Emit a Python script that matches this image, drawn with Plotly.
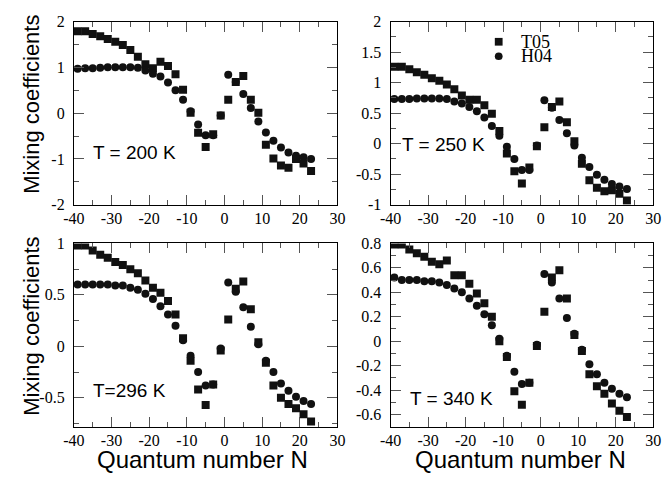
import plotly.graph_objects as go

# Quantum number N (x positions)
N = [-39, -37, -35, -33, -31, -29, -27, -25, -23, -21, -19, -17, -15, -13, -11, -9,
     -7, -5, -3, -1, 1, 3, 5, 7, 9, 11, 13, 15, 17, 19, 21, 23]

# T = 200 K
T05_200 = [1.79, 1.79, 1.73, 1.68, 1.62, 1.56, 1.49, 1.38, 1.23, 1.07, 0.98, 1.12, 1.03, 0.85, 0.51, 0.01,
           -0.43, -0.74, -0.46, -0.05, 0.29, 0.68, 0.81, 0.29, 0.01, -0.69, -0.99, -1.14, -1.19, -1.00, -1.10, -1.26]
H04_200 = [0.97, 0.98, 0.98, 0.99, 1.00, 1.00, 1.00, 1.00, 0.99, 0.93, 0.86, 0.80, 0.67, 0.50, 0.29, 0.04,
           -0.25, -0.48, -0.48, -0.05, 0.84, 0.68, 0.42, 0.11, -0.18, -0.42, -0.60, -0.75, -0.86, -0.93, -0.96, -1.00]
# T = 250 K
T05_250 = [1.26, 1.26, 1.22, 1.17, 1.13, 1.07, 1.03, 0.97, 0.89, 0.79, 0.72, 0.72, 0.63, 0.49, 0.21, -0.16,
           -0.45, -0.65, -0.39, -0.04, 0.27, 0.60, 0.69, 0.35, 0.04, -0.33, -0.60, -0.72, -0.78, -0.76, -0.82, -0.93]
H04_250 = [0.73, 0.73, 0.73, 0.74, 0.74, 0.74, 0.74, 0.73, 0.69, 0.66, 0.60, 0.53, 0.43, 0.29, 0.13, -0.05,
           -0.25, -0.43, -0.43, -0.03, 0.71, 0.59, 0.39, 0.17, -0.03, -0.23, -0.38, -0.51, -0.59, -0.66, -0.70, -0.74]
# T = 296 K
T05_296 = [0.98, 0.98, 0.93, 0.89, 0.86, 0.82, 0.79, 0.75, 0.71, 0.64, 0.57, 0.52, 0.44, 0.31, 0.08, -0.14,
           -0.42, -0.57, -0.37, -0.04, 0.26, 0.56, 0.63, 0.36, 0.04, -0.16, -0.38, -0.50, -0.56, -0.60, -0.66, -0.73]
H04_296 = [0.60, 0.60, 0.60, 0.60, 0.60, 0.59, 0.59, 0.57, 0.55, 0.51, 0.46, 0.39, 0.31, 0.20, 0.06, -0.09,
           -0.25, -0.38, -0.37, -0.02, 0.62, 0.53, 0.38, 0.19, 0.02, -0.14, -0.25, -0.36, -0.43, -0.49, -0.53, -0.56]
# T = 340 K
T05_340 = [0.79, 0.79, 0.75, 0.72, 0.69, 0.65, 0.63, 0.66, 0.54, 0.54, 0.47, 0.39, 0.31, 0.20, 0.00, -0.13,
           -0.41, -0.52, -0.34, -0.04, 0.24, 0.52, 0.58, 0.35, 0.05, -0.08, -0.27, -0.37, -0.43, -0.51, -0.57, -0.62]
H04_340 = [0.52, 0.50, 0.50, 0.50, 0.49, 0.49, 0.48, 0.46, 0.43, 0.40, 0.35, 0.29, 0.22, 0.13, 0.02, -0.12,
           -0.25, -0.35, -0.34, -0.03, 0.55, 0.48, 0.35, 0.19, 0.06, -0.07, -0.19, -0.27, -0.34, -0.39, -0.43, -0.46]

panel_labels = ["T = 200 K", "T = 250 K", "T=296 K", "T = 340 K"]
series_names = ["T05", "H04"]

x_tickvals = [-40, -30, -20, -10, 0, 10, 20, 30]
x_ticktext = ["-40", "-30", "-20", "-10", "0", "10", "20", "30"]

y_ticks = [
    ([2, 1, 0, -1, -2], ["2", "1", "0", "-1", "-2"]),
    ([2, 1.5, 1, 0.5, 0, -0.5, -1], ["2", "1.5", "1", "0.5", "0", "-0.5", "-1"]),
    ([1, 0.5, 0, -0.5], ["1", "0.5", "0", "-0.5"]),
    ([0.8, 0.6, 0.4, 0.2, 0, -0.2, -0.4, -0.6], ["0.8", "0.6", "0.4", "0.2", "0", "-0.2", "-0.4", "-0.6"]),
]
y_ranges = [[-2, 2], [-1, 2], [-0.78, 1], [-0.7, 0.8]]
y_minor = [0.5, 0.25, 0.25, 0.1]

W, H = 667, 482
def px_x(p): return p / W
def px_y(p): return 1 - p / H

x_domains = [[px_x(64.7), px_x(336)], [px_x(390.7), px_x(661)]]
y_domains = [[px_y(204), px_y(14)], [px_y(434), px_y(244)]]

squares = [T05_200, T05_250, T05_296, T05_340]
circles = [H04_200, H04_250, H04_296, H04_340]

fig = go.Figure()
ink = "#111111"
for i in range(4):
    xa = "x" if i == 0 else f"x{i+1}"
    ya = "y" if i == 0 else f"y{i+1}"
    fig.add_trace(go.Scatter(x=N, y=squares[i], mode="markers", xaxis=xa, yaxis=ya,
                             name=series_names[0], showlegend=False,
                             marker=dict(symbol="square", size=8, color=ink, line=dict(width=0))))
    fig.add_trace(go.Scatter(x=N, y=circles[i], mode="markers", xaxis=xa, yaxis=ya,
                             name=series_names[1], showlegend=False,
                             marker=dict(symbol="circle", size=8, color=ink, line=dict(width=0))))

serif = "Liberation Serif"
sans = "Liberation Sans"
axcommon = dict(showline=True, linecolor="black", linewidth=1, mirror="ticks",
                ticks="inside", ticklen=10, tickwidth=1, tickcolor="#555555",
                showgrid=False, zeroline=False)

layout = dict(width=W, height=H, margin=dict(l=0, r=0, t=0, b=0),
              paper_bgcolor="white", plot_bgcolor="white", showlegend=False,
              font=dict(family=serif, size=16, color="black"))
for i in range(4):
    row, col = divmod(i, 2)
    xk = "xaxis" if i == 0 else f"xaxis{i+1}"
    yk = "yaxis" if i == 0 else f"yaxis{i+1}"
    xa_anchor = "y" if i == 0 else f"y{i+1}"
    ya_anchor = "x" if i == 0 else f"x{i+1}"
    layout[xk] = dict(axcommon, domain=x_domains[col], range=[-40, 30], anchor=xa_anchor,
                      tickvals=x_tickvals, ticktext=x_ticktext, ticklabelstandoff=-1,
                      minor=dict(ticks="inside", ticklen=5, tickwidth=1, tickcolor="#555555", dtick=5, tick0=0, showgrid=False))
    layout[yk] = dict(axcommon, domain=y_domains[row], range=y_ranges[i], anchor=ya_anchor,
                      tickvals=y_ticks[i][0], ticktext=y_ticks[i][1], ticklabelstandoff=5,
                      minor=dict(ticks="inside", ticklen=5, tickwidth=1, tickcolor="#555555", dtick=y_minor[i], tick0=0, showgrid=False))

fig.update_layout(**layout)
fig.update_xaxes(tickfont=dict(family=serif, size=16, color="black"))
fig.update_yaxes(tickfont=dict(family=serif, size=16, color="black"))

# Legend (key symbols + labels inside panel 2)
fig.add_shape(type="rect", xref="paper", yref="paper",
              x0=px_x(498), x1=px_x(506), y0=px_y(39), y1=px_y(31),
              fillcolor=ink, line=dict(width=0))
fig.add_shape(type="circle", xref="paper", yref="paper",
              x0=px_x(498), x1=px_x(506), y0=px_y(54), y1=px_y(46),
              fillcolor=ink, line=dict(width=0))
for txt, yc in zip(series_names, (35, 50)):
    fig.add_annotation(x=px_x(523), y=px_y(yc), xref="paper", yref="paper", text=txt, showarrow=False,
                       font=dict(family=serif, size=18, color="black"), xanchor="left", yanchor="middle")

ann_pos = [(127, 150), (445, 141), (122, 396), (453, 405)]
for (ax_, ay_), txt in zip(ann_pos, panel_labels):
    fig.add_annotation(x=px_x(ax_), y=px_y(ay_), xref="paper", yref="paper", text=txt, showarrow=False,
                       font=dict(family=sans, size=19, color="black"), xanchor="center", yanchor="middle")

for yc in (100, 330):
    fig.add_annotation(x=px_x(21), y=px_y(yc), xref="paper", yref="paper", text="Mixing coefficients",
                       textangle=-90, showarrow=False, font=dict(family=sans, size=22, color="black"),
                       xanchor="center", yanchor="middle")
for xc in (197, 524):
    fig.add_annotation(x=px_x(xc), y=px_y(468), xref="paper", yref="paper", text="Quantum number N",
                       showarrow=False, font=dict(family=sans, size=24, color="black"),
                       xanchor="center", yanchor="middle")

fig.write_html("out.html")
